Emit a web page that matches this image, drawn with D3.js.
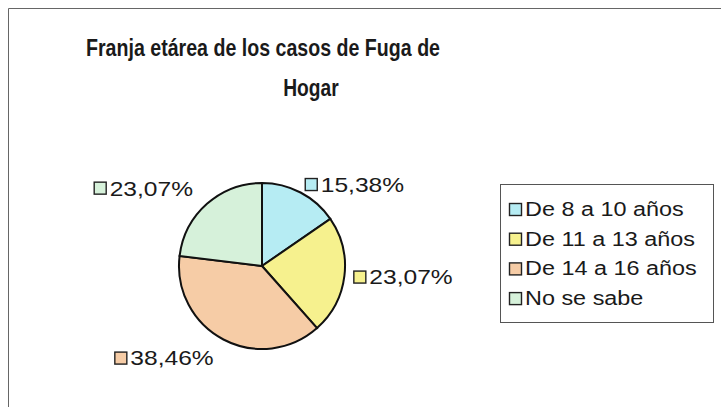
<!DOCTYPE html>
<html>
<head>
<meta charset="utf-8">
<script src="https://cdn.jsdelivr.net/npm/d3@7"></script>
<style>
body{margin:0;background:#fff;}
text{font-family:"Liberation Sans",Arial,sans-serif;fill:#1a1a1a;}
</style>
</head>
<body>
<div id="root"></div>
<script>
// data
var categories=['De 8 a 10 años','De 11 a 13 años','De 14 a 16 años','No se sabe'];
var values=[15.38,23.07,38.46,23.07];
var pctLabels=['15,38%','23,07%','38,46%','23,07%'];
var colors=['#b6ecf3','#f6f18e','#f6cca6','#d6f1da'];
var titleLines=['Franja etárea de los casos de Fuga de','Hogar'];

var w=721,h=407;
var stretch=1.17; // the scanned chart text is a bit wider than Arial
var svg=d3.select('#root').append('svg').attr('width',w).attr('height',h);

// widen a text node horizontally
var widen=function(t,k){
	var tw=t.node().getComputedTextLength();
	t.attr('textLength',tw*k).attr('lengthAdjust','spacingAndGlyphs');
	return tw*k;
}

// frame (only top and left are visible in the crop)
svg.append('path').attr('d','M8.5,407V8.5H721').attr('fill','none').attr('stroke','#666').attr('stroke-width',1);

// title
svg.append('text').attr('x',263).attr('y',56).attr('text-anchor','middle')
	.style('font-size','24px').style('font-weight','bold')
	.attr('textLength',354).attr('lengthAdjust','spacingAndGlyphs')
	.text(titleLines[0]);
var t2=svg.append('text').attr('x',311).attr('y',96).attr('text-anchor','middle')
	.style('font-size','24px').style('font-weight','bold')
	.text(titleLines[1]);
t2.attr('textLength',t2.node().getComputedTextLength()*0.8).attr('lengthAdjust','spacingAndGlyphs');

// pie
var cx=262,cy=266,r=83;
var pie=d3.pie().sort(null).value(function(d){return d});
var arc=d3.arc().innerRadius(0).outerRadius(r);
var arcs=pie(values);
var g=svg.append('g').attr('transform','translate('+cx+','+cy+')');
g.selectAll('path').data(arcs).enter().append('path')
	.attr('d',arc)
	.attr('fill',function(d,i){return colors[i]})
	.attr('stroke','#111').attr('stroke-width',2);

// data labels
var lab=g.selectAll('.lab').data(arcs).enter().append('g').attr('class','lab');
lab.each(function(d,i){
	var a=(d.startAngle+d.endAngle)/2;
	var right=Math.sin(a)>=0;
	var rr=right?92:104;
	var px=rr*Math.sin(a), py=-rr*Math.cos(a);
	var sel=d3.select(this);
	var t=sel.append('text').style('font-size','21px').attr('dy','0.35em').text(pctLabels[i]);
	var tw=widen(t,stretch);
	var x0=right?px:px-tw-16;
	sel.insert('rect','text').attr('x',x0+0.5).attr('y',py-6).attr('width',12).attr('height',12)
		.attr('fill',colors[i]).attr('stroke','#222').attr('stroke-width',1.4);
	t.attr('x',x0+16).attr('y',py);
});

// legend
var lx=500,ly=184;
var leg=svg.append('g');
leg.append('rect').attr('x',lx+0.5).attr('y',ly+0.5).attr('width',213).attr('height',138)
	.attr('fill','#fff').attr('stroke','#555').attr('stroke-width',1);
var rows=leg.selectAll('.row').data(categories).enter().append('g')
	.attr('transform',function(d,i){return 'translate('+(lx+9)+','+(ly+25+i*29.7)+')'});
rows.append('rect').attr('x',0.5).attr('y',-5.5).attr('width',12).attr('height',12)
	.attr('fill',function(d,i){return colors[i]}).attr('stroke','#222').attr('stroke-width',1.4);
rows.append('text').attr('x',16).attr('dy','0.35em').style('font-size','20px').text(function(d){return d})
	.each(function(){widen(d3.select(this),stretch)});
</script>
</body>
</html>
